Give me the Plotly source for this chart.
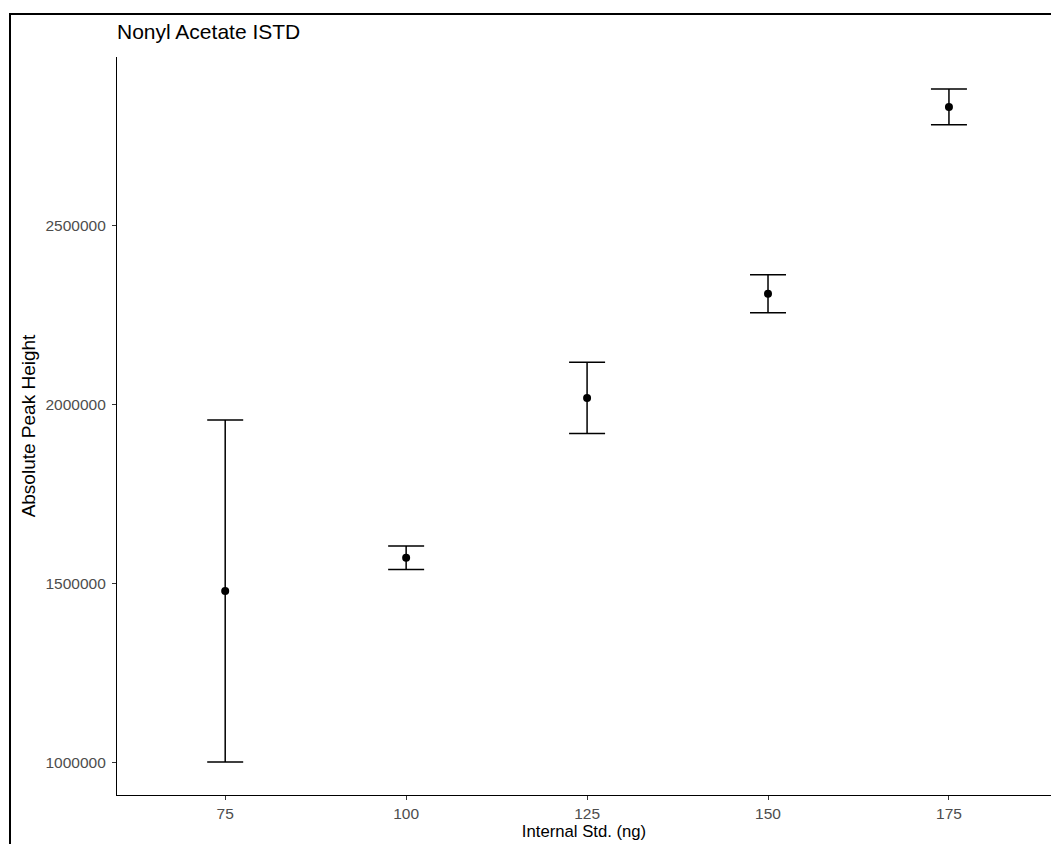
import plotly.graph_objects as go

# Data
internal_std_ng = [75, 100, 125, 150, 175]
peak_height_mean = [1479000, 1571500, 2018500, 2309700, 2831500]
peak_height_sd = [478000, 33000, 99500, 53000, 50000]
x_ticks = [75, 100, 125, 150, 175]
y_ticks = [1000000, 1500000, 2000000, 2500000]
y_tick_labels = ["1000000", "1500000", "2000000", "2500000"]

W, H = 1051, 844
L, R, T, B = 117, 0, 57, 49
pw, ph = W - L - R, H - T - B

fig = go.Figure()
fig.add_trace(go.Scatter(
    x=internal_std_ng,
    y=peak_height_mean,
    mode="markers",
    marker=dict(color="black", size=8),
    error_y=dict(type="data", array=peak_height_sd, visible=True,
                 color="black", thickness=1.5, width=18),
    showlegend=False,
))

font_family = "Liberation Sans, Arial, sans-serif"

fig.update_layout(
    width=W, height=H,
    margin=dict(l=L, r=R, t=T, b=B, pad=0),
    paper_bgcolor="white",
    plot_bgcolor="white",
    font=dict(family=font_family, color="black"),
    title=dict(text="Nonyl Acetate ISTD", x=L / W, xanchor="left",
               y=1 - 32 / H, yanchor="middle", yref="container",
               font=dict(size=21, color="black", family=font_family)),
    xaxis=dict(
        range=[60.05, 189.1],
        tickvals=x_ticks,
        ticktext=[str(v) for v in x_ticks],
        showgrid=False, zeroline=False,
        showline=True, linecolor="black", linewidth=1.3,
        ticks="outside", ticklen=4, tickcolor="#333333", tickwidth=1.1,
        tickfont=dict(size=15.5, color="#4D4D4D", family=font_family),
        title=dict(text="Internal Std. (ng)", standoff=1,
                   font=dict(size=16.7, color="black", family=font_family)),
    ),
    yaxis=dict(
        range=[908600, 2971200],
        tickvals=y_ticks,
        ticktext=y_tick_labels,
        showgrid=False, zeroline=False,
        showline=True, linecolor="black", linewidth=1.3,
        ticks="outside", ticklen=4, tickcolor="#333333", tickwidth=1.1,
        ticklabelstandoff=3,
        tickfont=dict(size=15.5, color="#4D4D4D", family=font_family),
        title=dict(text="Absolute Peak Height", standoff=4,
                   font=dict(size=19, color="black", family=font_family)),
    ),
    shapes=[dict(
        type="rect", xref="paper", yref="paper",
        x0=(10 - L) / pw, x1=1.5,
        y0=-0.5, y1=(H - B - 14) / ph,
        line=dict(color="black", width=2), fillcolor="rgba(0,0,0,0)",
        layer="above",
    )],
)

fig.write_html(
    "out.html",
    config={"displayModeBar": False},
    post_script="document.body.style.margin='0';document.body.style.overflow='hidden';",
)
